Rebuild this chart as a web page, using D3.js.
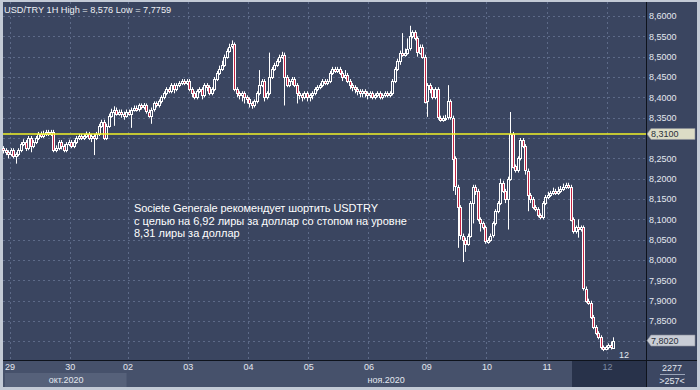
<!DOCTYPE html>
<html><head><meta charset="utf-8">
<script src="https://cdn.jsdelivr.net/npm/d3@7"></script>
<style>
html,body{margin:0;padding:0;background:#c3cad6;}
svg{display:block;font-family:"Liberation Sans",Arial,sans-serif;}
</style></head><body>
<svg id="c" width="700" height="390"></svg>
<script>
// ---- data ----
const title = "USD/TRY 1H High = 8,576 Low = 7,7759";
const firstOpen = 8.275;
const closes = [
8.27,8.265,8.26,8.27,8.255,8.26,8.27,8.285,8.29,8.275,
8.30,8.28,8.29,8.30,8.31,8.305,8.31,8.315,8.31,8.315,
8.27,8.275,8.29,8.28,8.27,8.285,8.29,8.28,8.29,8.30,
8.305,8.30,8.305,8.31,8.30,8.305,8.30,8.31,8.33,8.34,
8.30,8.33,8.355,8.365,8.37,8.36,8.365,8.36,8.355,8.365,
8.36,8.37,8.375,8.37,8.38,8.375,8.38,8.365,8.355,8.37,
8.385,8.38,8.39,8.40,8.41,8.42,8.415,8.43,8.42,8.43,
8.435,8.44,8.435,8.44,8.42,8.41,8.40,8.415,8.42,8.405,
8.43,8.425,8.41,8.42,8.445,8.46,8.47,8.48,8.50,8.515,
8.525,8.53,8.42,8.41,8.405,8.41,8.40,8.395,8.385,8.38,
8.39,8.41,8.43,8.44,8.40,8.41,8.45,8.47,8.48,8.49,
8.50,8.505,8.45,8.43,8.44,8.445,8.43,8.41,8.405,8.40,
8.41,8.40,8.405,8.41,8.42,8.425,8.43,8.44,8.435,8.44,
8.46,8.47,8.465,8.47,8.46,8.45,8.455,8.44,8.43,8.425,
8.42,8.415,8.41,8.415,8.41,8.405,8.41,8.40,8.405,8.41,
8.40,8.405,8.41,8.405,8.41,8.44,8.47,8.49,8.51,8.505,
8.51,8.52,8.55,8.56,8.545,8.51,8.525,8.50,8.39,8.43,
8.42,8.40,8.42,8.35,8.345,8.35,8.35,8.39,8.35,8.25,
8.18,8.13,8.06,8.05,8.04,8.06,8.14,8.18,8.17,8.10,
8.09,8.08,8.045,8.05,8.06,8.09,8.12,8.14,8.19,8.17,
8.15,8.20,8.31,8.23,8.22,8.25,8.295,8.28,8.22,8.16,
8.15,8.13,8.125,8.11,8.105,8.14,8.155,8.16,8.165,8.17,
8.165,8.17,8.175,8.18,8.185,8.18,8.10,8.07,8.08,8.075,
8.08,7.93,7.90,7.895,7.86,7.835,7.82,7.81,7.785,7.78,
7.785,7.79,7.785,7.802];
const highs = [
8.28,8.275,8.27,8.275,8.275,8.265,8.275,8.29,8.297,8.295,
8.305,8.305,8.295,8.305,8.315,8.316,8.318,8.32,8.32,8.32,
8.32,8.282,8.295,8.295,8.285,8.29,8.296,8.295,8.295,8.305,
8.31,8.31,8.31,8.316,8.315,8.31,8.31,8.315,8.335,8.345,
8.345,8.335,8.36,8.372,8.378,8.375,8.37,8.37,8.365,8.37,
8.37,8.375,8.38,8.38,8.385,8.385,8.386,8.385,8.37,8.375,
8.39,8.39,8.395,8.405,8.415,8.425,8.425,8.435,8.435,8.435,
8.44,8.445,8.445,8.445,8.445,8.425,8.415,8.42,8.425,8.425,
8.435,8.435,8.43,8.425,8.45,8.465,8.478,8.49,8.505,8.52,
8.532,8.54,8.535,8.425,8.415,8.415,8.415,8.405,8.40,8.39,
8.395,8.415,8.467,8.445,8.445,8.415,8.51,8.475,8.485,8.495,
8.505,8.512,8.51,8.455,8.445,8.45,8.45,8.435,8.415,8.41,
8.415,8.415,8.41,8.415,8.425,8.43,8.435,8.445,8.445,8.445,
8.465,8.475,8.475,8.475,8.475,8.465,8.467,8.46,8.445,8.435,
8.43,8.425,8.42,8.42,8.42,8.415,8.415,8.415,8.41,8.415,
8.415,8.41,8.415,8.415,8.415,8.445,8.475,8.495,8.515,8.558,
8.52,8.545,8.576,8.565,8.565,8.55,8.53,8.53,8.505,8.435,
8.435,8.425,8.425,8.425,8.355,8.355,8.357,8.43,8.395,8.355,
8.255,8.185,8.135,8.065,8.055,8.065,8.145,8.185,8.185,8.175,
8.105,8.095,8.085,8.055,8.065,8.095,8.125,8.145,8.20,8.195,
8.175,8.205,8.364,8.315,8.235,8.255,8.30,8.30,8.285,8.225,
8.165,8.155,8.135,8.13,8.115,8.145,8.16,8.168,8.17,8.178,
8.175,8.18,8.182,8.188,8.19,8.19,8.185,8.105,8.085,8.10,
8.085,8.085,7.935,7.905,7.90,7.865,7.84,7.825,7.815,7.79,
7.79,7.795,7.80,7.81];
const lows = [
8.262,8.258,8.25,8.255,8.25,8.237,8.255,8.265,8.28,8.268,
8.27,8.265,8.275,8.285,8.295,8.30,8.30,8.305,8.305,8.305,
8.265,8.265,8.27,8.272,8.265,8.265,8.28,8.275,8.275,8.285,
8.295,8.295,8.295,8.30,8.295,8.29,8.258,8.295,8.305,8.325,
8.295,8.295,8.325,8.35,8.33,8.355,8.355,8.35,8.345,8.35,
8.355,8.325,8.365,8.365,8.365,8.37,8.37,8.36,8.35,8.335,
8.365,8.375,8.375,8.385,8.395,8.405,8.41,8.41,8.41,8.415,
8.425,8.43,8.43,8.43,8.415,8.40,8.395,8.395,8.41,8.395,
8.40,8.415,8.405,8.405,8.415,8.44,8.455,8.465,8.475,8.495,
8.51,8.52,8.415,8.40,8.395,8.39,8.385,8.385,8.375,8.372,
8.375,8.385,8.405,8.425,8.39,8.395,8.405,8.445,8.465,8.475,
8.485,8.495,8.38,8.425,8.425,8.43,8.425,8.385,8.395,8.39,
8.395,8.39,8.39,8.395,8.405,8.415,8.42,8.425,8.43,8.43,
8.435,8.455,8.46,8.46,8.455,8.44,8.445,8.435,8.42,8.415,
8.41,8.405,8.40,8.40,8.40,8.395,8.398,8.395,8.395,8.40,
8.395,8.395,8.40,8.40,8.40,8.405,8.435,8.465,8.48,8.50,
8.50,8.505,8.515,8.545,8.54,8.50,8.505,8.495,8.385,8.352,
8.41,8.395,8.395,8.345,8.34,8.34,8.342,8.345,8.345,8.17,
8.16,8.03,8.05,7.995,8.02,8.035,8.055,8.09,8.16,8.095,
8.07,8.075,8.04,8.04,8.045,8.055,8.085,8.115,8.135,8.165,
8.14,8.075,8.195,8.225,8.215,8.215,8.245,8.275,8.21,8.12,
8.14,8.125,8.12,8.105,8.10,8.10,8.135,8.15,8.155,8.16,
8.16,8.16,8.165,8.17,8.175,8.175,8.095,8.065,8.065,8.055,
8.07,7.925,7.895,7.89,7.855,7.83,7.815,7.805,7.78,7.776,
7.778,7.78,7.78,7.782];
const dayLabels = ["29","30","02","03","04","05","06","09","10","11","12"];
const dayStartIndex = [3,27,50,74,98,122,146,169,193,217,241];
const monthLabels = ["окт.2020","ноя.2020"];
const gridTicks = [7.80,7.85,7.90,7.95,8.00,8.05,8.10,8.15,8.20,8.25,8.30,8.35,8.40,8.45,8.50,8.55,8.60];
const labelTicks = [7.85,7.90,7.95,8.00,8.05,8.10,8.15,8.20,8.25,8.35,8.40,8.45,8.50,8.55,8.60];
const stopLevel = 8.31;
const lastPrice = 7.802;
const lastBarLabel = "12";
const noteLines = ["Societe Generale рекомендует шортить USDTRY",
                   "с целью на 6,92 лиры за доллар со стопом на уровне",
                   "8,31 лиры за доллар"];
const counterTop = "2277", counterBottom = ">257<";

// ---- layout ----
const L = 3, T = 2, R = 646, B = 360, AX = 697, BB = 387;
const plotBg = "#3a4560";
const svg = d3.select("#c");
const fmt = d => d3.format(".4f")(d).replace(".", ",");

const x = d3.scaleLinear().domain([0, closes.length - 1]).range([3.3, 613.2]);
const y = d3.scaleLinear().domain([7.7542, 8.632]).range([B, T + 1]);
const dayPos = i => x(i - 0.5);

// panels
svg.append("rect").attr("x", L).attr("y", T).attr("width", AX - L).attr("height", B - T).attr("fill", plotBg);
svg.append("rect").attr("x", L).attr("y", B + 1).attr("width", R - L).attr("height", BB - B - 1).attr("fill", "#46516b");
svg.append("rect").attr("x", 5).attr("y", 373).attr("width", dayPos(dayStartIndex[2]) - 6).attr("height", BB - 373).attr("fill", "#56617a");
svg.append("rect").attr("x", 572).attr("y", B + 1).attr("width", R - 572).attr("height", BB - B - 1).attr("fill", "#28324a");
svg.append("rect").attr("x", R + 1).attr("y", B + 1).attr("width", AX - R - 1).attr("height", BB - B - 1).attr("fill", "#3c4762");

// grids
const gy = svg.append("g").attr("transform", `translate(${L},0)`)
  .call(d3.axisRight(y).tickValues(gridTicks).tickSize(R - L).tickFormat(""));
gy.select(".domain").remove();
gy.selectAll("line").attr("stroke", "#5d6a88").attr("stroke-dasharray", "2,3").attr("shape-rendering", "crispEdges");

const gx = svg.append("g").attr("transform", `translate(0,${T})`);
gx.selectAll("line").data(dayStartIndex).join("line")
  .attr("x1", d => Math.round(dayPos(d)) + 0.5).attr("x2", d => Math.round(dayPos(d)) + 0.5)
  .attr("y1", 0).attr("y2", B - T)
  .attr("stroke", "#5d6a88").attr("stroke-dasharray", "2,3");

// candles
const candles = closes.map((c, i) => ({i, o: i === 0 ? firstOpen : closes[i - 1], c, h: highs[i], l: lows[i]}));
const cg = svg.append("g");
const g1 = cg.selectAll("g").data(candles).join("g");
g1.append("line")
  .attr("x1", d => Math.round(x(d.i)) + 0.5).attr("x2", d => Math.round(x(d.i)) + 0.5)
  .attr("y1", d => y(d.h)).attr("y2", d => y(d.l))
  .attr("stroke", "#ffffff").attr("stroke-width", 1);
g1.append("rect")
  .attr("x", d => Math.round(x(d.i)) - 1 + 0.5)
  .attr("y", d => Math.round(y(Math.max(d.o, d.c))) + 0.5)
  .attr("width", 2)
  .attr("height", d => Math.max(1, Math.round(Math.abs(y(d.o) - y(d.c)))))
  .attr("fill", d => d.c >= d.o ? plotBg : "#c42443")
  .attr("stroke", "#ffffff").attr("stroke-width", 1);

// stop level line
svg.append("line").attr("x1", L).attr("x2", R).attr("y1", y(stopLevel)).attr("y2", y(stopLevel))
  .attr("stroke", "#f2f226").attr("stroke-width", 1.5);

// separators
svg.append("line").attr("x1", R + 0.5).attr("x2", R + 0.5).attr("y1", T).attr("y2", BB).attr("stroke", "#0e131c");
svg.append("line").attr("x1", L).attr("x2", AX).attr("y1", B + 0.5).attr("y2", B + 0.5).attr("stroke", "#0e131c");

// right axis
const ay = svg.append("g").attr("transform", `translate(${R},0)`)
  .call(d3.axisRight(y).tickValues(labelTicks).tickSize(0).tickPadding(3).tickFormat(fmt));
ay.select(".domain").remove();
ay.selectAll("text").attr("fill", "#e4e8f0").attr("font-size", 9).attr("font-family", "Liberation Sans, Arial, sans-serif");

// price tags
function tag(v, fill) {
  const yy = y(v);
  const g = svg.append("g");
  g.append("path")
    .attr("d", `M${R + 1},${yy} L${R + 5},${yy - 5.5} L${AX - 2},${yy - 5.5} L${AX - 2},${yy + 5.5} L${R + 5},${yy + 5.5} Z`)
    .attr("fill", fill).attr("stroke", "#8a8f98").attr("stroke-width", 0.6);
  g.append("text").attr("x", R + 5).attr("y", yy + 3.3).attr("font-size", 9).attr("fill", "#2a2f3a").text(fmt(v));
}
tag(stopLevel, "#dcdcc6");
tag(lastPrice, "#c9cdd6");

// bottom axis
const ax = svg.append("g").attr("transform", `translate(0,${B})`)
  .call(d3.axisBottom(x).tickValues(dayStartIndex.map(d => d - 0.5)).tickSize(0).tickPadding(4)
    .tickFormat((d, k) => dayLabels[k]));
ax.select(".domain").remove();
ax.selectAll("text").attr("font-size", 9).attr("font-family", "Liberation Sans, Arial, sans-serif")
  .attr("fill", (d, k) => k === dayLabels.length - 1 ? "#7d8aa3" : "#e4e8f0");

svg.append("text").attr("x", dayPos(dayStartIndex[1]) - 21).attr("y", 383).attr("font-size", 9).attr("fill", "#e4e8f0").text(monthLabels[0]);
svg.append("text").attr("x", dayPos(dayStartIndex[6]) - 1).attr("y", 383).attr("font-size", 9).attr("fill", "#e4e8f0").text(monthLabels[1]);

// corner counter
svg.append("text").attr("x", 672).attr("y", 371).attr("text-anchor", "middle").attr("font-size", 9).attr("fill", "#e4e8f0").text(counterTop);
svg.append("line").attr("x1", 660).attr("x2", 685).attr("y1", 374.5).attr("y2", 374.5).attr("stroke", "#9aa4b8");
svg.append("text").attr("x", 672).attr("y", 384).attr("text-anchor", "middle").attr("font-size", 9).attr("fill", "#e4e8f0").text(counterBottom);

// last bar marker
svg.append("text").attr("x", 619).attr("y", 358).attr("font-size", 9).attr("fill", "#e4e8f0").text(lastBarLabel);

// title
svg.append("text").attr("x", 4).attr("y", 13).attr("font-size", 9.2).attr("fill", "#eef0f4").text(title);

// note
const noteWidths = [244, null, null];
const nt = svg.append("g").selectAll("text").data(noteLines).join("text")
  .attr("x", 134).attr("y", (d, k) => 212 + k * 12.5)
  .attr("font-size", 11).attr("fill", "#ffffff")
  .text(d => d);
nt.filter((d, k) => noteWidths[k] !== null)
  .attr("textLength", (d, k) => 244)
  .attr("lengthAdjust", "spacing");
</script>
</body></html>
